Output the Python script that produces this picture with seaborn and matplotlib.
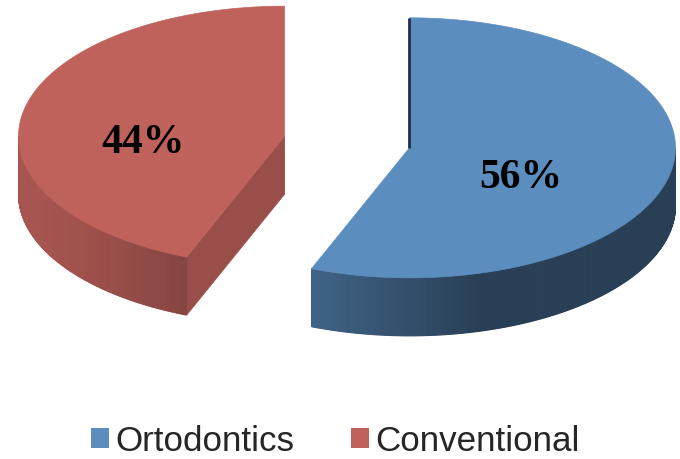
import numpy as np
import matplotlib
matplotlib.use("Agg")
import matplotlib.pyplot as plt
from matplotlib.patches import Polygon, Patch
import seaborn as sns

# Share of cases by treatment type
categories = ["Ortodontics", "Conventional"]
shares = [56, 44]
labels = ["56%", "44%"]
colors = ["#5B8DBF", "#C0625C"]

sns.set_style("white")
plt.rcParams["font.family"] = ["Liberation Sans", "DejaVu Sans"]

W, H = 680, 459
fig = plt.figure(figsize=(W / 100, H / 100), dpi=100)
ax = fig.add_axes([0, 0, 1, 1])
ax.set_xlim(0, W)
ax.set_ylim(H, 0)
ax.axis("off")

# Tilted, exploded pie drawn in pixel units
cx, cy = 347, 142        # pie centre before exploding
rx, ry = 266, 130        # projected radii of the top face
depth = 58               # thickness of the disc
explode = 0.239          # offset of each slice along its bisector
label_k = 1.145          # label distance relative to the sector centroid
label_drop = 20
light = np.deg2rad(195)  # direction the walls are lit from
camera_x = cx - 90       # viewer sits a little left of the pie centre


def proj(x0, y0, theta, r=1.0, z=0.0):
    return x0 + rx * r * np.cos(theta), y0 - ry * r * np.sin(theta) + z


def shade(rgb, factor):
    return tuple(np.clip(np.array(rgb) * factor, 0, 1))


palette = sns.color_palette(colors)
total = float(sum(shares))
start = np.pi / 2
for share, lab, base in zip(shares, labels, palette):
    span = 2 * np.pi * share / total
    hi, lo = start, start - span          # slices run clockwise
    mid = (hi + lo) / 2
    x0 = cx + explode * rx * np.cos(mid)
    y0 = cy - explode * ry * np.sin(mid)

    # radial cut faces: the one facing the viewer is drawn solid
    for phi, side in ((lo, -1), (hi, 1)):
        normal = phi + side * np.pi / 2
        px, py = proj(x0, y0, phi)
        quad = [(x0, y0), (px, py), (px, py + depth), (x0, y0 + depth)]
        if np.sin(normal) < -1e-6:
            ax.add_patch(Polygon(quad, closed=True, facecolor=shade(base, 0.80),
                                 edgecolor=shade(base, 0.80), lw=0.6))
        elif abs(np.sin(normal)) <= 1e-6 and np.cos(normal) * (camera_x - x0) > 0:
            ax.plot([x0, px], [y0, py], color=shade(base, 0.35), lw=2.0,
                    solid_capstyle="butt")

    # outer wall, in thin strips, only where it faces the viewer
    th = np.linspace(lo, hi, 400)
    for t0, t1 in zip(th[:-1], th[1:]):
        tm = (t0 + t1) / 2
        if np.sin(tm) > 0:
            continue
        m = 0.45 + 0.42 * max(0.0, np.cos(tm - light))
        c = shade(base, m)
        a0 = proj(x0, y0, t0)
        a1 = proj(x0, y0, t1)
        strip = [a0, a1, (a1[0], a1[1] + depth), (a0[0], a0[1] + depth)]
        ax.add_patch(Polygon(strip, closed=True, facecolor=c, edgecolor=c, lw=0.8))

    # top face
    tx, ty = proj(x0, y0, th)
    top = np.column_stack([np.r_[x0, tx], np.r_[y0, ty]])
    ax.add_patch(Polygon(top, closed=True, facecolor=base, edgecolor=base, lw=0.5))

    # percentage label near the sector centroid
    centroid = 4 * np.sin(span / 2) / (3 * span)
    lx, ly = proj(x0, y0, mid, r=label_k * centroid)
    ax.text(lx, ly + label_drop, lab, ha="center", va="center", fontsize=30,
            fontweight="bold", family=["Liberation Serif", "DejaVu Serif"],
            color="black")
    start = lo

handles = [Patch(facecolor=c, edgecolor="none") for c in palette]
ax.legend(handles, categories, loc="center", bbox_to_anchor=(0.4934, 0.039),
          ncol=2, frameon=False, fontsize=25.2, handlelength=0.52,
          handleheight=0.52, handletextpad=0.18, columnspacing=1.62,
          borderaxespad=0, borderpad=0)

fig.savefig("out.png", dpi=100)
